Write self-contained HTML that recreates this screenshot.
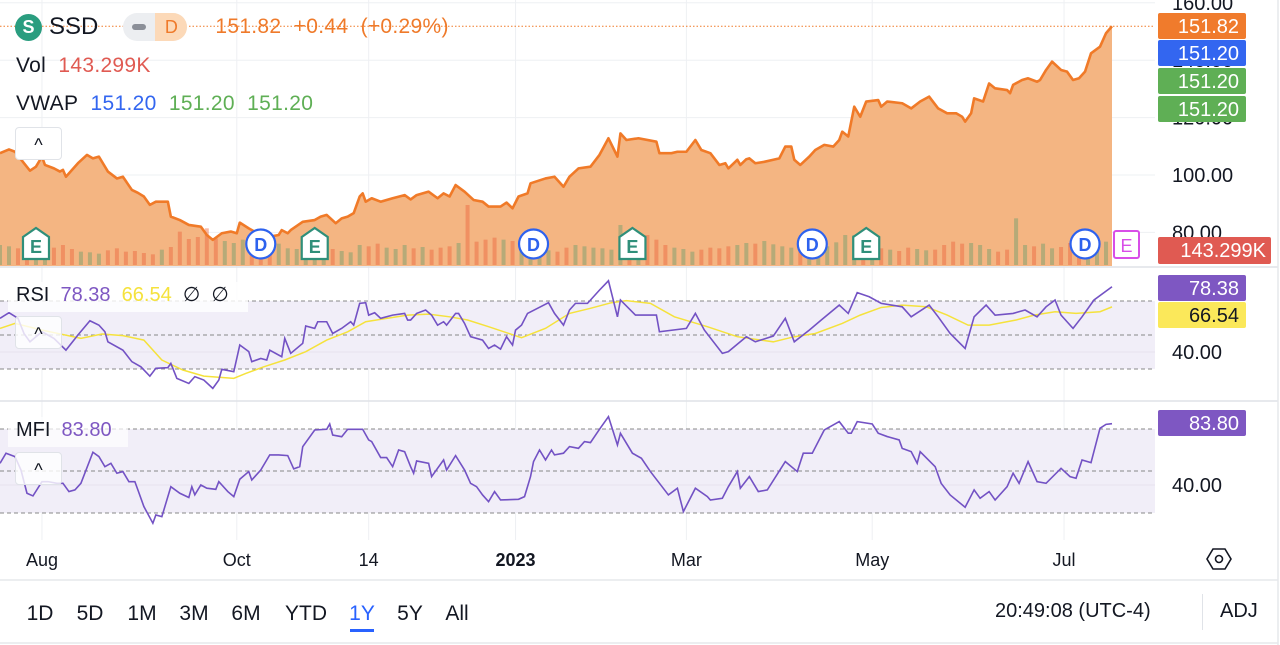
<!DOCTYPE html>
<html><head><meta charset="utf-8">
<style>
html,body{margin:0;padding:0;background:#fff;}
body{width:1280px;height:645px;overflow:hidden;font-family:"Liberation Sans",sans-serif;position:relative;}
svg{position:absolute;left:0;top:0;}
.t{font-family:"Liberation Sans",sans-serif;}
</style></head><body>
<svg id="chart" width="1280" height="645" viewBox="0 0 1280 645"></svg>
<script>
// ---------- data ----------
const priceDays=[0,3,5,8,10,12,14,15,18,20,21,22,26,29,31,33,36,39,41,44,46,48,50,52,56,57,60,63,67,69,71,74,77,79,80,83,87,90,93,94,96,97,101,105,107,109,112,114,116,118,120,121,122,124,127,131,135,137,139,143,146,148,150,152,155,158,161,163,167,169,171,173,176,177,182,185,188,190,193,197,
200,203,206,207,209,213,219,220,224,226,229,232,234,237,240,242,243,246,247,249,250,252,255,258,260,262,264,265,267,270,272,275,278,280,281,283,285,287,289,293,294,296,301,304,307,310,313,316,319,321,322,324,325,328,330,332,336,337,338,341,343,346,347,349,351,354,356,358,360,362,364,367,369,371];
const priceValues=[107.6,108.9,108.1,104.1,101.5,102.9,106.4,103.5,102.3,101.2,101.8,99.4,104.1,107,105.8,106.4,101.2,98.8,99.4,94.8,93.8,92.5,89.6,90.7,90.7,85.5,84.3,82.6,82,79.1,77.4,79.7,80.3,79.7,83.4,81.4,79.1,78.5,79.1,80.8,79.7,80.8,83.7,84.3,85.5,86.1,83.2,84.9,85.5,86.7,92.5,93.6,90.7,91.9,90.7,91.9,93,91.5,93,94.2,91.9,93.6,92.5,96.5,94.2,91.3,90.7,89,89,90.4,88.4,92.5,93.6,97.1,98.8,99.4,95.9,99.4,102.3,102.9,
107,112.8,106.4,114.5,112.2,112.8,111.6,107.6,107.6,108.1,108.1,112.2,108.7,107.6,103.5,104.1,102.3,105.3,103.5,105.5,105.8,104.1,104.6,105.3,105.8,109.9,109.9,105.3,103.5,106.4,108.7,110.5,109.9,112.2,115.1,113.4,123.8,120.3,125.6,126.1,123.8,125.6,125,123.2,125.6,127.3,123.2,121.5,121.5,120.3,118.6,121.5,126.7,125.6,131.9,130.2,129.6,128.5,131.4,133.1,133.7,132.5,133.1,136.6,139.5,136.6,136,133.1,133.7,136,142.4,144.7,149.4,151.82];
const volumeValues=[300,280,250,200,220,180,260,300,240,200,190,170,220,250,200,210,180,160,230,270,500,390,420,550,400,360,330,380,300,260,280,320,250,240,220,200,260,240,210,190,300,280,320,260,240,300,250,270,230,260,280,330,900,350,380,410,380,360,300,270,240,220,200,260,300,280,260,250,230,600,310,300,450,380,300,260,240,200,230,260,250,280,300,330,320,360,310,280,260,230,230,250,280,340,450,450,260,280,250,230,210,260,240,220,230,300,350,320,330,300,240,200,230,700,300,280,320,250,270,330,300,310,330,350];
const rsiDays=[0,3,6,8,10,14,18,22,26,30,33,35,36,41,44,47,50,52,56,57,59,63,65,68,71,73,74,78,80,83,84,87,89,90,94,95,97,101,102,105,106,109,111,114,117,118,120,122,123,125,127,131,135,136,137,139,142,144,146,148,149,152,153,155,157,161,163,165,167,169,171,172,174,176,183,185,188,190,192,196,200,203,206,207,212,219,220,229,232,235,241,243,249,252,258,262,265,270,274,280,283,286,290,294,301,304,310,313,317,322,325,329,332,338,342,346,349,352,354,358,361,365,371];
const rsiValues=[59.8,63.1,59.8,50.9,46,51.9,48,41.1,50,58.4,55.8,51.9,46,41.1,34.3,31.3,25.8,30.4,30.8,33.3,24.5,21.5,25.5,23.5,18.6,23.5,29.8,28.4,44.1,40.2,34.3,36.2,35.3,41.1,37.2,48,39.2,45.1,55.3,53.9,57.8,57.8,50.9,53.9,57.8,55.8,68.6,69,61.7,63.1,59.8,61.7,62.7,58.8,58.8,62.7,64.7,61.7,55.8,57.8,55.8,62.7,62.7,56.8,49,47,42.1,44.1,41.7,49,44.1,52.9,55.8,62.7,69,62.7,55.8,64.7,68.6,68.6,76.4,81.9,60.7,70.6,61.7,61.7,51.9,53.9,62.7,52.9,39.2,40.2,49,46,49.4,59.8,46,52.9,58.8,67.6,62.7,74.9,72.5,68.6,66.6,60.7,67.6,60.7,50.9,42.1,60.7,67.6,61.7,62.7,64.7,60.7,66.6,70.6,61.7,53.9,60.7,70.6,78.38];
const rsiMaDays=[0,5,14,27,34,41,48,54,61,68,78,82,88,95,102,109,116,122,129,136,143,150,156,163,174,182,190,197,204,209,217,225,236,246,258,265,272,281,287,294,301,309,316,323,330,339,345,352,359,367,371];
const rsiMaValues=[53.9,56.8,52.9,48,50.6,49.6,47,35.3,29.4,25.8,24.5,27.4,31.3,35.3,40.2,47,51.9,57.8,59.8,61.7,62.3,60.7,58.8,54.9,48.4,53.9,62.7,65.7,69,70.2,68.6,60.7,54.9,49,46,49,50.9,56.8,61.7,66.2,67.6,66.6,61.7,55.8,55.8,58.8,61.7,63.7,62.7,63.7,66.54];
const mfiDays=[0,2,5,7,9,11,14,16,19,21,23,25,27,31,33,35,37,39,41,43,45,46,48,51,52,54,57,60,63,64,65,67,69,72,73,76,78,80,83,84,87,90,93,96,98,100,101,105,109,110,111,114,116,121,123,124,127,129,131,133,135,137,138,139,143,144,148,149,152,155,157,159,161,163,165,167,173,175,177,178,180,182,184,185,188,190,193,195,197,200,203,206,207,211,214,217,223,226,228,232,236,237,241,243,246,247,250,253,256,262,266,268,271,275,278,280,283,284,286,291,293,296,300,301,304,306,307,312,314,317,322,325,327,330,332,336,338,340,343,346,349,354,357,359,361,364,367,369,371];
const mfiValues=[55.5,62.7,60.3,50.7,34.1,32.2,42.4,42.4,41.2,41.2,35.3,36.5,41.2,63.4,60.3,53.1,55.5,48.4,49.6,42.4,42.4,36.5,24.6,12.7,18.6,17.4,38.8,34.1,31.1,38.8,33,40,37.7,36.9,42.4,35.3,31.7,44.1,49.6,43.6,50.7,61.5,61.5,61,51.5,53.1,67.4,79.3,79.8,83.6,75.7,74.5,79.8,79.8,72.2,71,59.6,59.6,53.1,65,63.8,53.1,48.4,57.2,55.5,46,57.9,50.7,61,50.7,41.2,38.8,32.9,28.1,35.3,29.3,29.8,31.7,46,56.7,65,57.9,65,61.5,62.7,67.4,66.2,71,70.3,79.8,88.8,68.6,76.9,62.7,59.1,49.6,32.9,37.7,21,37.7,31.7,29.3,30.5,38.8,49.6,37.7,46,35.3,36.5,56.7,49.6,62.7,62.7,79.3,82.9,85.3,77,77,85.3,83.6,77,74.6,72.2,66.2,63.8,55.5,63.8,53.1,41.2,32.9,24.1,36.5,30.5,35.3,29.3,38.8,48.4,41.2,56.7,42.4,41.2,51.9,46,44.8,57.9,56,80.5,83.3,83.8];
const priceTicks=[160,140,120,100,80];
const monthLabels=["Aug","Oct","14","2023","Mar","May","Jul"];
const monthDays=[14,79,123,172,229,291,355];
const eventTypes=["E","D","E","D","E","D","E","D","E"];
const eventDays=[7,82,100,173,206,266,284,357,375];
const rangeButtons=["1D","5D","1M","3M","6M","YTD","1Y","5Y","All"];

// ---------- scales ----------
const NS="http://www.w3.org/2000/svg";
const svg=document.getElementById('chart');
const X0=0,X1=1112,DMAX=371;
const xs=d=>X0+(d/DMAX)*(X1-X0);
const yPrice=p=>175-(p-100)*2.87;
const yRsi=v=>352-(v-40)*1.7;
const yMfi=v=>485-(v-40)*1.4;
const yVol=v=>265-v/15;
function el(tag,attrs,parent){const e=document.createElementNS(NS,tag);for(const k in attrs)e.setAttribute(k,attrs[k]);(parent||svg).appendChild(e);return e;}
function txt(s,attrs,parent){const e=el('text',attrs,parent);e.textContent=s;return e;}
function interp(days,vals,d){for(let i=1;i<days.length;i++){if(d<=days[i]){const t=(d-days[i-1])/(days[i]-days[i-1]||1);return vals[i-1]+t*(vals[i]-vals[i-1]);}}return vals[vals.length-1];}

// grid
const grid=el('g',{});


monthDays.forEach(d=>{el('line',{x1:xs(d),x2:xs(d),y1:0,y2:540,stroke:'#eef0f3','stroke-width':1},grid);});
priceTicks.forEach(p=>{el('line',{x1:0,x2:1155,y1:yPrice(p),y2:yPrice(p),stroke:'#eef0f3','stroke-width':1},grid);});

// price area
const pricePts=priceDays.map((d,i)=>[xs(d),yPrice(priceValues[i])]);
const area=el('path',{d:'M'+pricePts[0][0]+',266 L'+pricePts.map(p=>p.join(',')).join(' L')+' L'+pricePts[pricePts.length-1][0]+',266 Z',fill:'#f4b582'});



// volume
const volG=el('g',{});


volumeValues.forEach((v,i)=>{
  const d=i*3;
  const up=interp(priceDays,priceValues,d)>=interp(priceDays,priceValues,Math.max(0,d-3));
  const r=el('rect',{x:xs(d)-2,y:yVol(v),width:4,height:265-yVol(v),fill:up?'rgba(120,160,110,0.5)':'rgba(235,100,60,0.45)'},volG);
  
  
});

const line=el('polyline',{points:pricePts.map(p=>p.join(',')).join(' '),fill:'none',stroke:'#f07a28','stroke-width':2.6,'stroke-linejoin':'round'});


el('line',{x1:0,x2:1155,y1:yPrice(151.82),y2:yPrice(151.82),stroke:'#f07a28','stroke-width':1,'stroke-dasharray':'1.5,2'});

// events
eventDays.forEach((d,i)=>{
  const cx=xs(d)+15,cy=244,t=eventTypes[i];
  const g=el('g',{});
  if(i===eventDays.length-1){
    
    el('rect',{x:1114,y:231,width:25,height:27,rx:2,fill:'#fff',stroke:'#d84ee8','stroke-width':2},g);
    txt('E',{x:1126.5,y:252,'text-anchor':'middle','font-size':18,fill:'#d84ee8',class:'t'},g);
  } else if(t==='E'){
    
    el('path',{d:`M${cx-13},${cy-7} L${cx},${cy-16} L${cx+13},${cy-7} L${cx+13},${cy+15} L${cx-13},${cy+15} Z`,fill:'#fff',stroke:'#2f8f7a','stroke-width':2.2},g);
    txt('E',{x:cx,y:cy+9,'text-anchor':'middle','font-size':18,'font-weight':'bold',fill:'#2f8f7a',class:'t'},g);
  } else {
    
    el('circle',{cx:cx,cy:cy,r:14.5,fill:'#fff',stroke:'#2d62ee','stroke-width':2.2},g);
    txt('D',{x:cx,y:cy+7,'text-anchor':'middle','font-size':18,'font-weight':'bold',fill:'#2d62ee',class:'t'},g);
  }
  
});

// pane separators
el('line',{x1:0,x2:1278,y1:267,y2:267,stroke:'#dfe2e7','stroke-width':1.5});
el('line',{x1:0,x2:1278,y1:401,y2:401,stroke:'#dfe2e7','stroke-width':1.5});
el('line',{x1:0,x2:1278,y1:580,y2:580,stroke:'#e6e8ec','stroke-width':1.5});
el('line',{x1:0,x2:1278,y1:643,y2:643,stroke:'#e6e8ec','stroke-width':1.5});
el('line',{x1:1278,x2:1278,y1:0,y2:645,stroke:'#e6e8ec','stroke-width':1.5});

// RSI pane
const rsiG=el('g',{});


el('rect',{x:0,y:yRsi(70),width:1155,height:yRsi(30)-yRsi(70),fill:'#f1eef8'},rsiG);
[70,50,30].forEach(v=>el('line',{x1:0,x2:1155,y1:yRsi(v),y2:yRsi(v),stroke:'#888','stroke-width':1,'stroke-dasharray':'4,3'},rsiG));
el('line',{x1:0,x2:1155,y1:yRsi(40),y2:yRsi(40),stroke:'#e6e3ee','stroke-width':1},rsiG);
const rsiMa=el('polyline',{points:rsiMaDays.map((d,i)=>xs(d)+','+yRsi(rsiMaValues[i])).join(' '),fill:'none',stroke:'#f5e23c','stroke-width':1.5},rsiG);


const rsiL=el('polyline',{points:rsiDays.map((d,i)=>xs(d)+','+yRsi(rsiValues[i])).join(' '),fill:'none',stroke:'#7352c4','stroke-width':1.6},rsiG);



// MFI pane
const mfiG=el('g',{});


el('rect',{x:0,y:yMfi(80),width:1155,height:yMfi(20)-yMfi(80),fill:'#f1eef8'},mfiG);
[80,50,20].forEach(v=>el('line',{x1:0,x2:1155,y1:yMfi(v),y2:yMfi(v),stroke:'#888','stroke-width':1,'stroke-dasharray':'4,3'},mfiG));
el('line',{x1:0,x2:1155,y1:yMfi(40),y2:yMfi(40),stroke:'#e6e3ee','stroke-width':1},mfiG);
const mfiL=el('polyline',{points:mfiDays.map((d,i)=>xs(d)+','+yMfi(mfiValues[i])).join(' '),fill:'none',stroke:'#7352c4','stroke-width':1.6},mfiG);



// right axis
priceTicks.forEach(p=>{const t=txt(p.toFixed(2),{x:1172,y:yPrice(p)+7,'font-size':20,fill:'#131722',class:'t'});

});
const rsiTick=txt('40.00',{x:1172,y:yRsi(40)+7,'font-size':20,fill:'#131722',class:'t'});


const mfiTick=txt('40.00',{x:1172,y:yMfi(40)+7,'font-size':20,fill:'#131722',class:'t'});


function badge(label,y,bg,fg,name){const g=el('g',{});
el('rect',{x:1158,y:y,width:88,height:26,rx:2,fill:bg},g);txt(label,{x:1239,y:y+20,'text-anchor':'end','font-size':20,fill:fg,class:'t'},g);}
badge('151.82',13,'#f07b2c','#fff','last-price-badge');
badge('151.20',40,'#3366f0','#fff','vwap-badge');
badge('151.20',68,'#5faf55','#fff','vwap-upper-badge');
badge('151.20',96,'#5faf55','#fff','vwap-lower-badge');
const vb=el('g',{});


el('rect',{x:1158,y:237,width:113,height:27,rx:2,fill:'#e05a52'},vb);
txt('143.299K',{x:1266,y:257,'text-anchor':'end','font-size':20,fill:'#fff',class:'t'},vb);
badge('78.38',275,'#7e57c2','#fff','rsi-badge');
badge('66.54',302,'#fbe85a','#131722','rsi-ma-badge');
badge('83.80',410,'#7e57c2','#fff','mfi-badge');

// time axis
monthLabels.forEach((m,i)=>{const t=txt(m,{x:xs(monthDays[i]),y:566,'text-anchor':'middle','font-size':18,fill:'#131722','font-weight':m==='2023'?'bold':'normal',class:'t'});

});

// range buttons
const rx=[40,90,142,194,246,306,362,410,457];
rangeButtons.forEach((b,i)=>{const t=txt(b,{x:rx[i],y:620,'text-anchor':'middle','font-size':21,fill:b==='1Y'?'#2962ff':'#131722',class:'t'});

});
el('rect',{x:350,y:629,width:24,height:3,fill:'#2962ff'});
</script>

<!-- header overlays -->
<div style="position:absolute;left:15px;top:12px;height:30px;display:flex;align-items:center;font-size:21px;">
  <div style="width:27px;height:27px;border-radius:50%;background:#2a9d7f;color:#fff;font-weight:bold;font-size:18px;display:flex;align-items:center;justify-content:center;">S</div>
  <span style="margin-left:7px;font-size:24px;color:#131722;">SSD</span>
  <div style="margin-left:25px;width:64px;height:28px;border-radius:14px;background:#eceef1;display:flex;overflow:hidden;">
    <div style="width:32px;display:flex;align-items:center;justify-content:center;"><div style="width:14px;height:6px;border-radius:3px;background:#8b8f98;"></div></div>
    <div style="width:32px;background:#fcd9b8;color:#ef7a2a;font-size:18px;display:flex;align-items:center;justify-content:center;">D</div>
  </div>
  <span style="margin-left:28px;color:#ef7a2a;font-size:21px;letter-spacing:0.3px;">151.82&nbsp; +0.44&nbsp; (+0.29%)</span>
</div>
<div style="position:absolute;left:16px;top:54px;font-size:21px;color:#131722;letter-spacing:0.3px;">Vol&nbsp; <span style="color:#e05a52">143.299K</span></div>
<div style="position:absolute;left:16px;top:92px;font-size:21px;color:#131722;letter-spacing:0.3px;">VWAP&nbsp;&nbsp;<span style="color:#3366f0">151.20</span>&nbsp;&nbsp;<span style="color:#5faf55">151.20</span>&nbsp;&nbsp;<span style="color:#5faf55">151.20</span></div>
<div style="position:absolute;left:15px;top:127px;width:45px;height:31px;border:1px solid #e0e3e8;border-radius:4px;background:#fff;text-align:center;font-size:18px;line-height:34px;color:#131722;">^</div>
<div style="position:absolute;left:8px;top:282px;width:240px;height:30px;background:rgba(255,255,255,0.8);font-size:20px;line-height:26px;padding-left:8px;box-sizing:border-box;color:#131722;">RSI&nbsp; <span style="color:#7e57c2">78.38</span>&nbsp; <span style="color:#f5e23c">66.54</span>&nbsp; ∅&nbsp; ∅</div>
<div style="position:absolute;left:15px;top:316px;width:45px;height:31px;border:1px solid #e0e3e8;border-radius:4px;background:rgba(255,255,255,0.8);text-align:center;font-size:18px;line-height:34px;color:#131722;">^</div>
<div style="position:absolute;left:8px;top:417px;width:120px;height:30px;background:rgba(255,255,255,0.7);font-size:20px;line-height:26px;padding-left:8px;box-sizing:border-box;color:#131722;">MFI&nbsp; <span style="color:#7e57c2">83.80</span></div>
<div style="position:absolute;left:15px;top:452px;width:45px;height:31px;border:1px solid #e0e3e8;border-radius:4px;background:rgba(255,255,255,0.8);text-align:center;font-size:18px;line-height:34px;color:#131722;">^</div>
<svg width="26" height="24" style="left:1206px;top:547px;" viewBox="0 0 26 24"><polygon points="7,2 19,2 25,12 19,22 7,22 1,12" fill="none" stroke="#131722" stroke-width="1.6"/><circle cx="13" cy="12" r="3.5" fill="none" stroke="#131722" stroke-width="1.6"/></svg>
<div style="position:absolute;left:995px;top:600px;font-size:20px;color:#131722;">20:49:08 (UTC-4)</div>
<div style="position:absolute;left:1202px;top:594px;width:1px;height:36px;background:#e0e3e8;"></div>
<div style="position:absolute;left:1220px;top:600px;font-size:20px;color:#131722;">ADJ</div>
</body></html>
